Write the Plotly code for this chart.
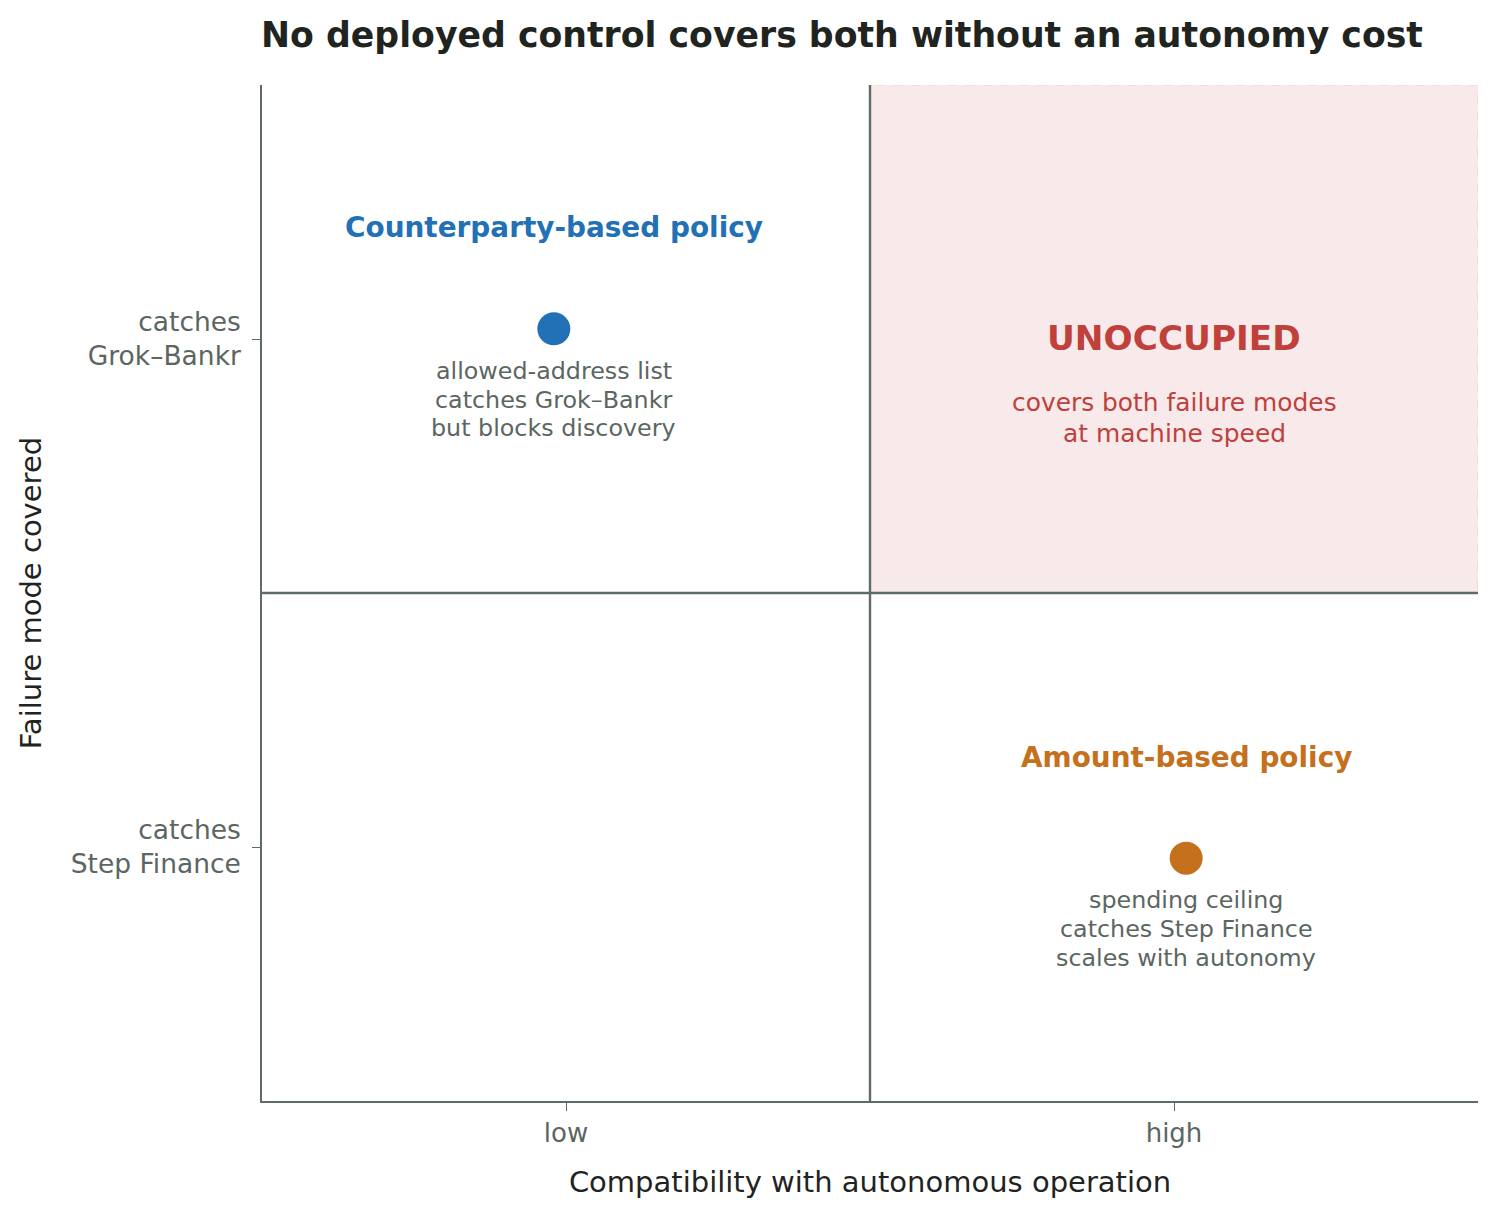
import plotly.graph_objects as go

## Data ##
policies = ["Counterparty-based policy", "Amount-based policy"]
compat = [0.48, 1.52]
coverage = [1.52, 0.478]
notes = [
    ["allowed-address list", "catches Grok–Bankr", "but blocks discovery"],
    ["spending ceiling", "catches Step Finance", "scales with autonomy"],
]
colors = ["#2270b5", "#c4701c"]

empty_label = "UNOCCUPIED"
empty_note = ["covers both failure modes", "at machine speed"]

x_tickvals = [0.5, 1.5]
x_ticktext = ["low", "high"]
y_tickvals = [0.5, 1.5]
y_ticktext = ["catches<br>Step Finance", "catches<br>Grok–Bankr"]

FONT = "DejaVu Sans"
GRAY = "#5c6661"
AXIS = "#5f6b66"
RED = "#c0403c"

fig = go.Figure()

# empty quadrant
fig.add_shape(type="rect", x0=1, x1=2, y0=1, y1=2, layer="below",
              fillcolor="#f8eaeb", line=dict(color="#f3cfd2", width=1.2, dash="dash"))
# quadrant dividers
fig.add_shape(type="line", x0=1, x1=1, y0=0, y1=2, line=dict(color=AXIS, width=2.4))
fig.add_shape(type="line", x0=0, x1=2, y0=1, y1=1, line=dict(color=AXIS, width=2.4))

fig.add_trace(go.Scatter(
    x=compat, y=coverage, mode="markers",
    marker=dict(size=33, color=colors),
    hoverinfo="skip", showlegend=False,
))

for name, x, y, note, c in zip(policies, compat, coverage, notes, colors):
    fig.add_annotation(x=x, y=y, yshift=101, text="<b>" + name + "</b>", showarrow=False,
                       font=dict(family=FONT, size=27.9, color=c))
    for i, line in enumerate(note):
        fig.add_annotation(x=x, y=y, yshift=-42 - 28.7 * i, text=line, showarrow=False,
                           font=dict(family=FONT, size=23.8, color=GRAY))

fig.add_annotation(x=1.5, y=1.5, yshift=1, text="<b>" + empty_label + "</b>", showarrow=False,
                   font=dict(family=FONT, size=34.3, color=RED))
for i, line in enumerate(empty_note):
    fig.add_annotation(x=1.5, y=1.5, yshift=-63 - 31 * i, text=line, showarrow=False,
                       font=dict(family=FONT, size=24.9, color=RED))

fig.update_layout(
    width=1491, height=1211,
    margin=dict(l=254, r=21, t=77, b=118),
    plot_bgcolor="white", paper_bgcolor="white",
    font=dict(family=FONT),
    title=dict(text="<b>No deployed control covers both without an autonomy cost</b>",
               x=834 / 1491, xanchor="center", y=1 - 27 / 1211, yanchor="middle",
               font=dict(family=FONT, size=34.7, color="#1f2421")),
    xaxis=dict(range=[0, 2], tickvals=x_tickvals, ticktext=x_ticktext,
               showgrid=False, zeroline=False, showline=True, linecolor=AXIS, linewidth=1.6,
               ticks="outside", ticklen=8, tickcolor=AXIS, tickwidth=1.3,
               ticklabelstandoff=0,
               tickfont=dict(size=26, color=GRAY),
               title=dict(text="Compatibility with autonomous operation", standoff=25,
                          font=dict(size=29, color="#1f2421"))),
    yaxis=dict(range=[0, 2], tickvals=y_tickvals, ticktext=y_ticktext,
               showgrid=False, zeroline=False, showline=True, linecolor=AXIS, linewidth=1.6,
               ticks="outside", ticklen=8, tickcolor=AXIS, tickwidth=1.3,
               ticklabelstandoff=6,
               tickfont=dict(size=26.5, color=GRAY),
               title=dict(text="Failure mode covered", standoff=21,
                          font=dict(size=29, color="#1f2421"))),
)

fig.write_html("out.html")
